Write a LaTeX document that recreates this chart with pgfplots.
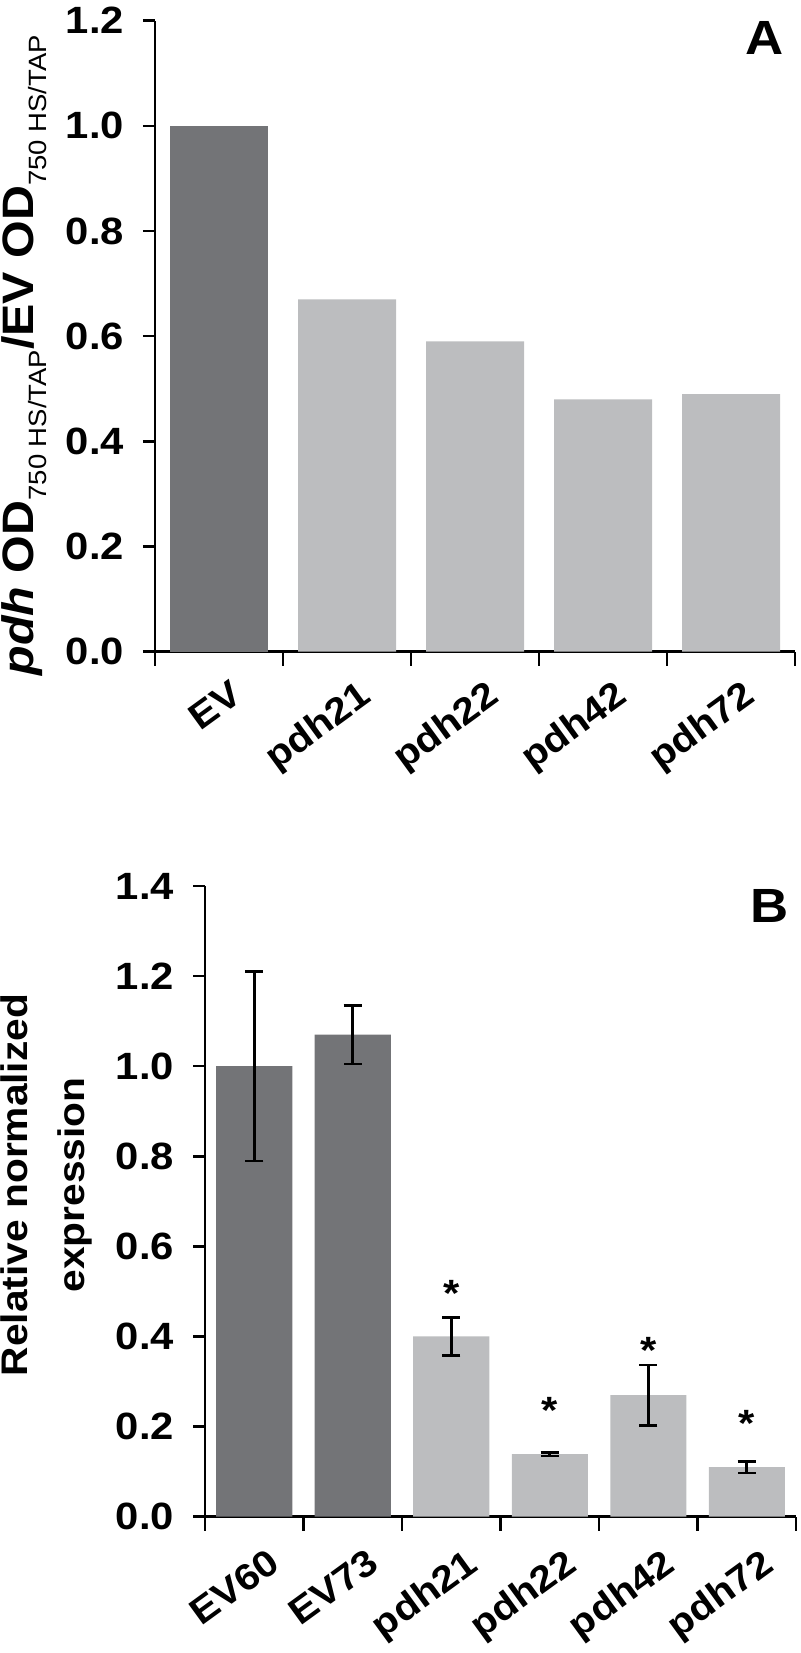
\documentclass[border=0pt]{standalone}
\usepackage{fontspec}
\setmainfont{Liberation Sans}[FakeStretch=1.1]
\usepackage{pgfplots}
\pgfplotsset{compat=1.18}

\definecolor{evgray}{RGB}{115,116,119}
\definecolor{pdhgray}{RGB}{188,189,191}

\newcommand\sub[1]{\raisebox{-0.3em}{\mdseries\fontsize{12.5}{12.5}\selectfont #1}}

\pgfplotsset{
  panel/.style={
    scale only axis,
    axis x line=bottom, axis y line=left,
    axis line style={-, line width=1.4pt},
    tick align=outside,
    xtick pos=bottom, ytick pos=left,
    major tick length=6pt, minor tick length=7pt,
    every tick/.style={black, line width=1.3pt},
    major x tick style={draw=none},
    ybar, bar shift=0pt,
    ymin=0,
    /pgf/number format/.cd, fixed, fixed zerofill, precision=1, assume math mode=true,
    /pgfplots/.cd,
    yticklabel style={font=\fontsize{19}{19}\selectfont\bfseries, xshift=-6pt},
    xticklabel style={font=\fontsize{18.5}{18.5}\selectfont\bfseries, rotate=36, anchor=north east, inner sep=1pt},
    ylabel style={font=\fontsize{22}{22}\selectfont\bfseries, anchor=center},
    clip=false,
  },
  errs/.style={
    error bars/.cd, y dir=both, y explicit,
    error bar style={black, line width=1.3pt},
    error mark options={black, line width=1.3pt, mark size=4.5pt, rotate=90},
  },
}

\begin{document}
\begin{tikzpicture}
\useasboundingbox (0,0) rectangle (400pt,826.5pt);

% panel A
\begin{axis}[panel,
  at={(77.5pt,500.65pt)}, anchor=south west,
  width=320pt, height=315.5pt,
  ymax=1.2, ytick={0,0.2,0.4,0.6,0.8,1.0,1.2},
  xmin=-0.5, xmax=4.5,
  xtick={0,1,2,3,4}, xticklabels={EV,pdh21,pdh22,pdh42,pdh72},
  minor xtick={-0.5,0.5,1.5,2.5,3.5,4.5},
  xticklabel style={yshift=-8pt, xshift=1pt},
  bar width=49pt,
  ylabel={\textit{pdh} OD\sub{750 HS/TAP}/EV OD\sub{750 HS/TAP}},
  ylabel style={at={(axis description cs:-0.205,0.47)}},
]
\addplot[fill=evgray, draw=none, bar shift=0pt] coordinates {(0,1.00)};
\addplot[fill=pdhgray, draw=none, bar shift=0pt] coordinates {
  (1,0.67) (2,0.59) (3,0.48) (4,0.49)};
\node[font=\fontsize{24}{24}\selectfont\bfseries] at (axis description cs:0.952,0.973) {A};
\end{axis}

% panel B
\begin{axis}[panel,
  at={(102.5pt,68.15pt)}, anchor=south west,
  width=295.5pt, height=315.35pt,
  ymax=1.4, ytick={0,0.2,0.4,0.6,0.8,1.0,1.2,1.4},
  xmin=-0.5, xmax=5.5,
  xtick={0,1,2,3,4,5}, xticklabels={EV60,EV73,pdh21,pdh22,pdh42,pdh72},
  minor xtick={-0.5,0.5,1.5,2.5,3.5,4.5,5.5},
  xticklabel style={yshift=-10pt, xshift=1pt},
  bar width=38pt,
  ylabel={Relative normalized\\expression},
  ylabel style={at={(axis description cs:-0.269,0.526)}, align=center,
    font=\fontsize{18.5}{28.5}\selectfont\bfseries},
]
\addplot[fill=evgray, draw=none, bar shift=0pt, errs] coordinates {
  (0,1.00) +- (0,0.21)
  (1,1.07) +- (0,0.065)};
\addplot[fill=pdhgray, draw=none, bar shift=0pt, errs] coordinates {
  (2,0.40) +- (0,0.042)
  (3,0.139) +- (0,0.004)
  (4,0.27) +- (0,0.067)
  (5,0.11) +- (0,0.013)};
% significance marks
\addplot[draw=none, fill=none, bar shift=0pt,
  nodes near coords={*},
  nodes near coords style={anchor=center, font=\fontsize{19}{19}\selectfont\bfseries}]
  coordinates {(2,0.496) (3,0.235) (4,0.368) (5,0.208)};
\node[font=\fontsize{24}{24}\selectfont\bfseries] at (axis description cs:0.956,0.968) {B};
\end{axis}
\end{tikzpicture}
\end{document}
